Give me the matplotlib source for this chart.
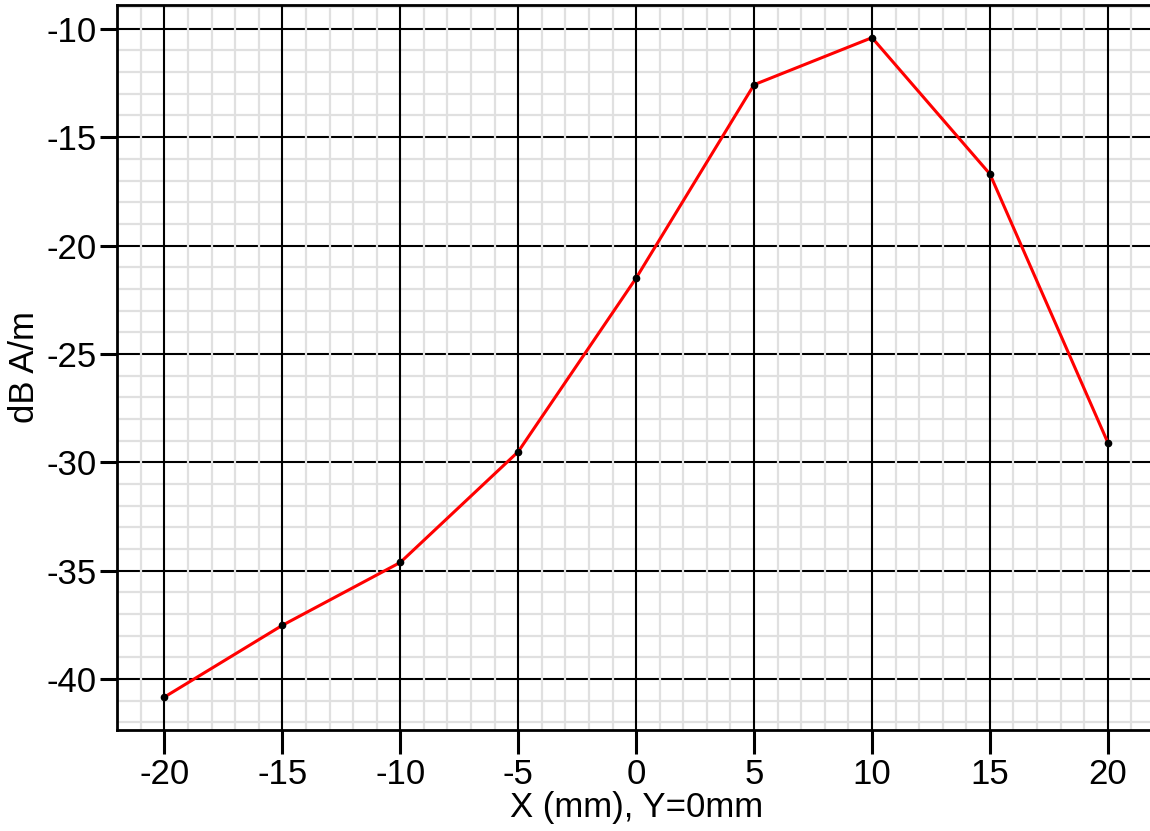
import matplotlib
matplotlib.use("Agg")
import matplotlib.pyplot as plt
from matplotlib.ticker import MultipleLocator

# --- Données ---
x_mm = [-20, -15, -10, -5, 0, 5, 10, 15, 20]
db_am = [-40.83, -37.52, -34.62, -29.51, -21.5, -12.58, -10.41, -16.70, -29.09]

plt.rcParams['font.family'] = ['Liberation Sans', 'DejaVu Sans']
plt.rcParams['axes.unicode_minus'] = False

fig = plt.figure(figsize=(11.5, 8.31), dpi=100)
ax = fig.add_axes([117.3 / 1150, 101 / 831, (1155 - 117.3) / 1150, (730 - 4.7) / 831])

ax.plot(x_mm, db_am, color='#ff0000', linewidth=2.2, zorder=3)
ax.plot(x_mm, db_am, linestyle='none', marker='o', markersize=4.5, color='black', zorder=4)

# Grilles
ax.xaxis.set_major_locator(MultipleLocator(5))
ax.yaxis.set_major_locator(MultipleLocator(5))
ax.xaxis.set_minor_locator(MultipleLocator(1))
ax.yaxis.set_minor_locator(MultipleLocator(1))
ax.grid(True, which='minor', color='#e0e0e0', linewidth=1.6)
ax.grid(True, which='major', color='black', linewidth=1.5)
ax.set_axisbelow(True)
# grille y dessinée avant la grille x (lignes verticales noires continues)
ax.yaxis.set_zorder(0.4)
ax.xaxis.set_zorder(0.5)

ax.tick_params(axis='both', which='major', labelsize=25, width=2.2, color='black')
ax.tick_params(axis='x', which='major', length=17, pad=3)
ax.tick_params(axis='y', which='major', length=12, pad=3)
ax.tick_params(which='minor', length=0)

for s in ax.spines.values():
    s.set_linewidth(2)
    s.set_color('black')

ax.set_xlabel("X (mm), Y=0mm", fontsize=25, labelpad=0)
ax.set_ylabel("dB A/m", fontsize=25, labelpad=4)

fig.savefig("out.png", dpi=100)
